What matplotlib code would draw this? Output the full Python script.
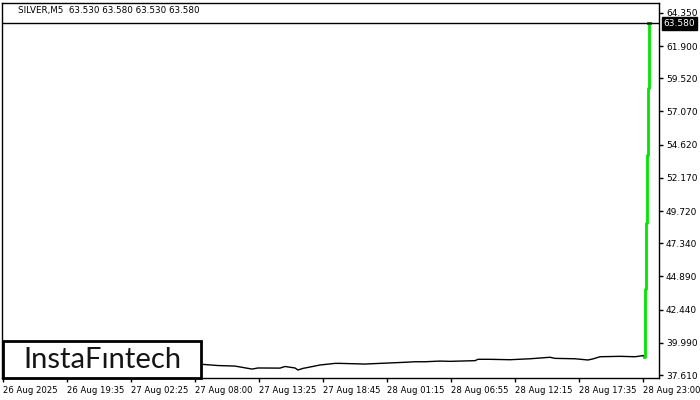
import numpy as np
import matplotlib
matplotlib.use("Agg")
import matplotlib.pyplot as plt
from matplotlib.patches import Rectangle

# bar index (1 px per M5 bar) and close prices
bar_idx = [0, 40, 80, 120, 160, 200, 216, 233, 250, 256, 278, 283, 293, 296, 301,
           308, 318, 333, 338, 363, 378, 403, 413, 423, 438, 448, 473, 476, 488,
           508, 528, 548, 553, 573, 586, 591, 598, 618, 633, 641]
close = [38.45, 38.42, 38.48, 38.44, 38.46, 38.40, 38.31, 38.27, 38.05, 38.13,
         38.12, 38.24, 38.13, 37.98, 38.10, 38.20, 38.35, 38.47, 38.47, 38.42,
         38.47, 38.55, 38.59, 38.59, 38.64, 38.62, 38.67, 38.77, 38.77, 38.74,
         38.81, 38.92, 38.84, 38.81, 38.72, 38.80, 38.96, 38.99, 38.96, 39.04]

# final spike (drawn green)
spike_idx = [642, 643, 644, 645, 646, 647]
spike_val = [38.96, 43.96, 48.84, 53.86, 58.81, 63.53]
last_price = 63.58

y_ticks = [37.610, 39.990, 42.440, 44.890, 47.340, 49.720, 52.170,
           54.620, 57.070, 59.520, 61.900, 64.350]
x_tick_idx = [1, 65, 129, 193, 257, 321, 385, 449, 513, 577, 641]
x_tick_labels = ["26 Aug 2025", "26 Aug 19:35", "27 Aug 02:25", "27 Aug 08:00",
                 "27 Aug 13:25", "27 Aug 18:45", "28 Aug 01:15", "28 Aug 06:55",
                 "28 Aug 12:15", "28 Aug 17:35", "28 Aug 23:00"]

W, H = 700, 400
fig = plt.figure(figsize=(7, 4), dpi=100)
ax = fig.add_axes([2 / W, 22 / H, 657 / W, 375 / H])

ax.plot(bar_idx, close, color="black", lw=1)
ax.plot([bar_idx[-1], spike_idx[0]], [close[-1], spike_val[0]], color="black", lw=1)
ax.plot(spike_idx, spike_val, color="#00e600", lw=2, drawstyle="steps-post")
ax.plot([spike_idx[-1] - 1, spike_idx[-1] + 1], [last_price, last_price],
        color="#007000", lw=2)
ax.axhline(last_price, color="black", lw=1)

ax.set_xlim(0, 657)
ax.set_ylim(37.39, 65.08)

ax.yaxis.tick_right()
ax.set_yticks(y_ticks)
ax.set_yticklabels([f"{v:.3f}" for v in y_ticks])
ax.set_xticks(x_tick_idx)
ax.set_xticklabels(x_tick_labels, ha="left")
ax.tick_params(axis="y", length=3, width=1, color="black", labelsize=6.5, pad=2)
ax.tick_params(axis="x", length=3, width=1, color="black", labelsize=6.1, pad=3)
for s in ax.spines.values():
    s.set_linewidth(1)
    s.set_color("black")

# current price tag
ax.annotate(f"{last_price:.3f}", xy=(1, last_price), xycoords=("axes fraction", "data"),
            xytext=(3.5, 0), textcoords="offset points", va="center", ha="left",
            fontsize=6.5, color="white",
            bbox=dict(boxstyle="square,pad=0.2", fc="black", ec="black"))

fig.text(18 / W, 1 - 11 / H, "SILVER,M5  63.530 63.580 63.530 63.580",
         fontsize=6.3, va="center", ha="left")

# logo box
fig.patches.append(Rectangle((3 / W, 22 / H), 198 / W, 37 / H, transform=fig.transFigure,
                             fc="white", ec="black", lw=2, zorder=5))
fig.text(102 / W, 1 - 360 / H, "InstaF\u0131ntech", fontsize=21, family="Lato",
         color="#151515", ha="center", va="center", zorder=6)

fig.savefig("out.png", dpi=100)
